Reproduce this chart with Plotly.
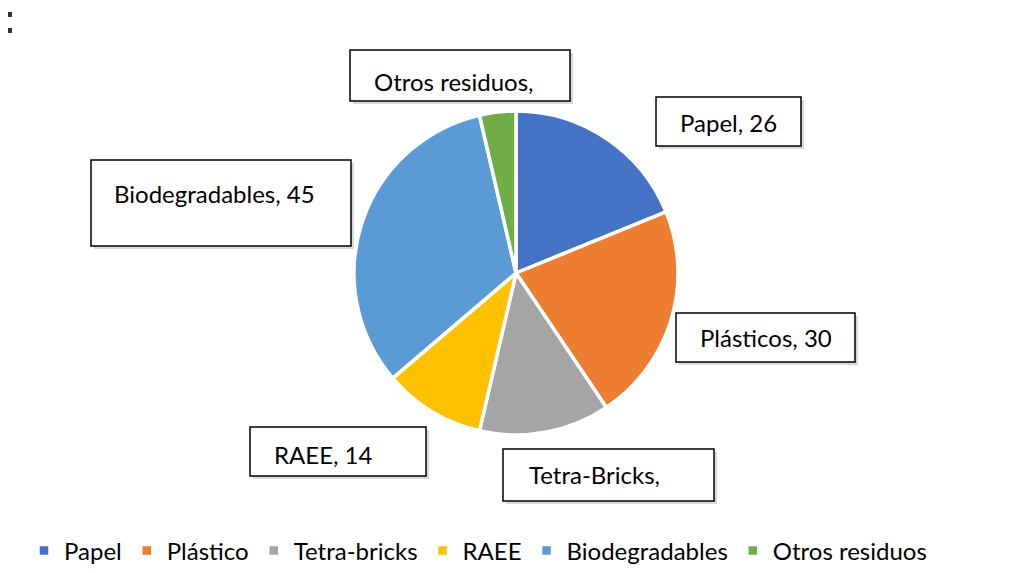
import plotly.graph_objects as go

# Data
legend_labels = ["Papel", "Plástico", "Tetra-bricks", "RAEE", "Biodegradables", "Otros residuos"]
box_labels = ["Papel", "Plásticos", "Tetra-Bricks", "RAEE", "Biodegradables", "Otros residuos"]
values = [26, 30, 18, 14, 45, 5]
show_value = [True, True, False, True, True, False]
colors = ["#4472C4", "#ED7D31", "#A5A5A5", "#FFC000", "#5B9BD5", "#70AD47"]

W, H = 1035, 573
OFF = 8  # page body margin


def px(x):
    return (x - OFF) / W


def py(y):
    return 1 - (y - OFF) / H


# label box layout (page pixel rectangles: x0, y0, x1, y1, text-left x, text-center y)
boxes = [
    (656, 97, 801, 146, 678, 123),
    (676, 313, 855, 362, 698, 337),
    (503, 449, 714, 501, 527, 474),
    (250, 427, 426, 476, 272, 454),
    (91, 160, 351, 246, 112, 193),
    (350, 50, 570, 101, 372, 81),
]

cx, cy, r = 516, 273, 162

fig = go.Figure()
fig.add_trace(go.Pie(
    labels=legend_labels,
    values=values,
    sort=False,
    direction="clockwise",
    rotation=0,
    marker=dict(colors=colors, line=dict(color="white", width=3.5)),
    textinfo="none",
    hoverinfo="label+value",
    domain=dict(x=[px(cx - r), px(cx + r)], y=[py(cy + r), py(cy - r)]),
))

shapes = []
annotations = []
for (x0, y0, x1, y1, tx, ty), lab, v, sv in zip(boxes, box_labels, values, show_value):
    shapes.append(dict(type="rect", xref="paper", yref="paper",
                       x0=px(x0 + 3), x1=px(x1 + 3), y0=py(y1 + 3), y1=py(y0 + 3),
                       line=dict(width=0), fillcolor="rgba(0,0,0,0.15)", layer="above"))
    shapes.append(dict(type="rect", xref="paper", yref="paper",
                       x0=px(x0), x1=px(x1), y0=py(y1), y1=py(y0),
                       line=dict(color="black", width=1.5), fillcolor="white", layer="above"))
    text = f"{lab}, {v}" if sv else f"{lab},"
    annotations.append(dict(text=text, x=px(tx), y=py(ty), xref="paper", yref="paper",
                            xanchor="left", yanchor="middle", showarrow=False,
                            font=dict(family="Lato", size=24, color="black")))

# small stray marks at the top-left corner
for (ya, yb) in [(12, 17), (28, 33)]:
    shapes.append(dict(type="rect", xref="paper", yref="paper",
                       x0=px(8), x1=px(12), y0=py(yb), y1=py(ya),
                       line=dict(width=0), fillcolor="#333", layer="above"))

fig.update_layout(
    width=W, height=H,
    margin=dict(l=0, r=0, t=0, b=0),
    paper_bgcolor="white",
    plot_bgcolor="white",
    shapes=shapes,
    annotations=annotations,
    showlegend=True,
    legend=dict(orientation="h", x=px(24), y=py(551), xanchor="left", yanchor="middle",
                font=dict(family="Lato", size=24, color="black"),
                itemwidth=30, traceorder="normal"),
)

fig.write_html("out.html")
